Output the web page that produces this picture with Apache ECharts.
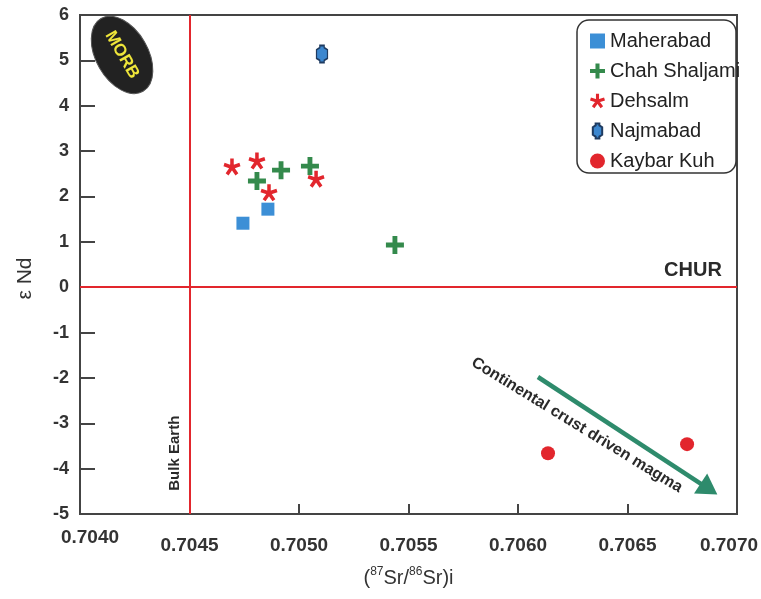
<!DOCTYPE html>
<html>
<head>
<meta charset="utf-8">
<script src="https://cdn.jsdelivr.net/npm/echarts@6/dist/echarts.min.js"></script>
<style>
  html, body { margin: 0; padding: 0; background: #fff; }
  #main { width: 761px; height: 599px; }
</style>
</head>
<body>
<div id="main"></div>
<script>
// Initial 87Sr/86Sr versus εNd for each intrusion
const maherabadSr = [0.704744, 0.704858];
const maherabadNd = [1.41, 1.72];
const chahSr = [0.704808, 0.704918, 0.705050, 0.705438];
const chahNd = [2.34, 2.58, 2.67, 0.93];
const dehsalmSr = [0.704694, 0.704808, 0.704863, 0.705078];
const dehsalmNd = [2.65, 2.78, 2.08, 2.38];
const najmabadSr = [0.705105];
const najmabadNd = [5.14];
const kaybarSr = [0.706137, 0.706772];
const kaybarNd = [-3.66, -3.46];

const seriesNames = ['Maherabad', 'Chah Shaljami', 'Dehsalm', 'Najmabad', 'Kaybar Kuh'];

// Reference values
const bulkEarthSr = 0.7045;
const churNd = 0;

// Axis ranges
const srMin = 0.7040, srMax = 0.7070, srStep = 0.0005;
const ndMin = -5, ndMax = 6, ndStep = 1;

const pairs = (xs, ys) => xs.map((x, i) => [x, ys[i]]);

// Symbol paths built from rectangular bars
function barPath(angles, from, to, halfW) {
  return 'path://' + angles.map(function (deg) {
    const a = deg * Math.PI / 180;
    const c = Math.cos(a), s = Math.sin(a);
    const pts = [[from, -halfW], [to, -halfW], [to, halfW], [from, halfW]].map(function (p) {
      return [(p[0] * c - p[1] * s).toFixed(3), (p[0] * s + p[1] * c).toFixed(3)];
    });
    return 'M' + pts.map(p => p.join(' ')).join(' L') + ' Z';
  }).join(' ');
}
const plusSymbol = barPath([0, 90], -10, 10, 2.7);
const starSymbol = barPath([-90, -18, 54, 126, 198], -1.5, 10, 2.1);
const barSymbol = 'path://M3 0 L7 0 L7 2 L10 4 L10 12 L7 14 L7 16 L3 16 L3 14 L0 12 L0 4 L3 2 Z';

const FONT = '"Liberation Sans", Arial, Helvetica, sans-serif';
const INK = '#333';
const RED = '#e2262d';
const ARROW = '#2e8b6c';

const chart = echarts.init(document.getElementById('main'), null, { renderer: 'canvas' });

const redLine = { color: RED, width: 2, type: 'solid' };
const tickFont = { fontSize: 19, fontWeight: 'bold', color: INK, fontFamily: FONT };

const option = {
  animation: false,
  textStyle: { fontFamily: FONT },
  grid: {
    left: 80, right: 24, top: 15, bottom: 85,
    containLabel: false, outerBoundsMode: 'none',
    show: true, borderColor: '#444', borderWidth: 2, backgroundColor: 'transparent'
  },
  legend: {
    orient: 'vertical',
    left: 585, top: 26,
    itemWidth: 15, itemHeight: 15, itemGap: 10,
    textStyle: { fontSize: 20, color: '#222', lineHeight: 20, fontFamily: FONT },
    data: [
      { name: seriesNames[0] },
      { name: seriesNames[1] },
      { name: seriesNames[2] },
      { name: seriesNames[3], icon: barSymbol },
      { name: seriesNames[4] }
    ],
    z: 6
  },
  xAxis: {
    type: 'value',
    min: srMin, max: srMax, interval: srStep,
    name: '({sup|87}Sr/{sup|86}Sr)i',
    nameLocation: 'middle',
    nameGap: 52,
    nameTextStyle: {
      fontSize: 20, color: INK, lineHeight: 24, fontFamily: FONT,
      rich: { sup: { fontSize: 12, verticalAlign: 'top', lineHeight: 12, color: INK, fontFamily: FONT } }
    },
    axisLine: { show: true, onZero: false, lineStyle: { color: '#444', width: 2 } },
    axisTick: { show: true, inside: true, length: 10, lineStyle: { color: '#444', width: 2 } },
    axisLabel: Object.assign({
      margin: 14,
      formatter: function (v) {
        const t = v.toFixed(4);
        if (Math.abs(v - srMin) < 1e-9) return '{first|' + t + '}';
        if (Math.abs(v - srMax) < 1e-9) return '{last|' + t + '}';
        return '{mid|' + t + '}';
      },
      rich: {
        first: Object.assign({ padding: [0, 0, 0, 20] }, tickFont),
        mid: Object.assign({ padding: [8, 0, 0, 0] }, tickFont),
        last: Object.assign({ padding: [8, 16, 0, 0] }, tickFont)
      }
    }, tickFont),
    splitLine: { show: false }
  },
  yAxis: {
    type: 'value',
    min: ndMin, max: ndMax, interval: ndStep,
    name: 'ε Nd',
    nameLocation: 'middle',
    nameRotate: 90,
    nameGap: 44,
    nameTextStyle: { fontSize: 21, color: INK, fontFamily: FONT, padding: [0, 28, 0, 0] },
    axisLine: { show: true, onZero: false, lineStyle: { color: '#444', width: 2 } },
    axisTick: { show: true, inside: true, length: 15, lineStyle: { color: '#444', width: 2 } },
    axisLabel: { margin: 11, fontSize: 18, fontWeight: 'bold', color: INK, fontFamily: FONT },
    splitLine: { show: false }
  },
  series: [
    {
      name: 'guides', type: 'scatter', data: [], silent: true,
      markLine: {
        silent: true, symbol: ['none', 'none'], label: { show: false },
        animation: false,
        data: [
          [
            { coord: [bulkEarthSr, ndMin], lineStyle: redLine },
            { coord: [bulkEarthSr, ndMax] }
          ],
          [
            { coord: [srMin, churNd], lineStyle: redLine },
            { coord: [srMax, churNd] }
          ],
          [
            { coord: [0.706091, -1.98], symbol: 'none', lineStyle: { color: ARROW, width: 4.5, type: 'solid' } },
            { coord: [0.706872, -4.45], symbol: 'triangle', symbolSize: [24, 20] }
          ]
        ]
      }
    },
    {
      name: seriesNames[0], type: 'scatter', symbol: 'rect', symbolSize: 13,
      itemStyle: { color: '#3c8fd6', opacity: 1 },
      data: pairs(maherabadSr, maherabadNd)
    },
    {
      name: seriesNames[1], type: 'scatter', symbol: plusSymbol, symbolSize: 18,
      itemStyle: { color: '#348a4c', opacity: 1 },
      data: pairs(chahSr, chahNd)
    },
    {
      name: seriesNames[2], type: 'scatter', symbol: starSymbol, symbolSize: 17,
      itemStyle: { color: RED, opacity: 1 },
      data: pairs(dehsalmSr, dehsalmNd)
    },
    {
      name: seriesNames[3], type: 'scatter', symbol: barSymbol, symbolSize: [11, 17],
      itemStyle: { color: '#3c87cf', borderColor: '#1f3b60', borderWidth: 1.5, opacity: 1 },
      data: pairs(najmabadSr, najmabadNd)
    },
    {
      name: seriesNames[4], type: 'scatter', symbol: 'circle', symbolSize: 14,
      itemStyle: { color: RED, opacity: 1 },
      data: pairs(kaybarSr, kaybarNd)
    }
  ]
};

chart.setOption(option);

// Annotations anchored in data space
const morbAt = [0.704192, 5.12];
const churAt = [0.706799, 0.36];
const bulkEarthAt = [0.704434, -3.66];
const crustTextAt = [0.706269, -3.04];
const px = v => chart.convertToPixel({ gridIndex: 0 }, v);

chart.setOption({
  graphic: [
    {
      type: 'rect', z: 5,
      shape: { x: 577, y: 20, width: 159, height: 153, r: 12 },
      style: { fill: '#fff', stroke: '#333', lineWidth: 1.5 }
    },
    {
      type: 'group', z: 5,
      x: px(morbAt)[0], y: px(morbAt)[1],
      rotation: -Math.PI / 3,
      children: [
        { type: 'ellipse', shape: { cx: 0, cy: 0, rx: 42, ry: 26 }, style: { fill: '#222', stroke: '#555', lineWidth: 1 } },
        { type: 'text', style: { text: 'MORB', x: 0, y: 0, align: 'center', verticalAlign: 'middle', fill: '#efe63a', font: 'bold 17px ' + FONT } }
      ]
    },
    {
      type: 'text', z: 5,
      x: px(churAt)[0], y: px(churAt)[1],
      style: { text: 'CHUR', align: 'center', verticalAlign: 'middle', fill: '#2a2a2a', font: 'bold 20px ' + FONT }
    },
    {
      type: 'text', z: 5,
      x: px(bulkEarthAt)[0], y: px(bulkEarthAt)[1],
      rotation: Math.PI / 2,
      style: { text: 'Bulk Earth', align: 'center', verticalAlign: 'middle', fill: '#2a2a2a', font: 'bold 15px ' + FONT }
    },
    {
      type: 'text', z: 5,
      x: px(crustTextAt)[0], y: px(crustTextAt)[1],
      rotation: -0.55,
      style: { text: 'Continental crust driven magma', align: 'center', verticalAlign: 'middle', fill: '#2a2a2a', font: 'bold 16px ' + FONT }
    }
  ]
});
</script>
</body>
</html>
